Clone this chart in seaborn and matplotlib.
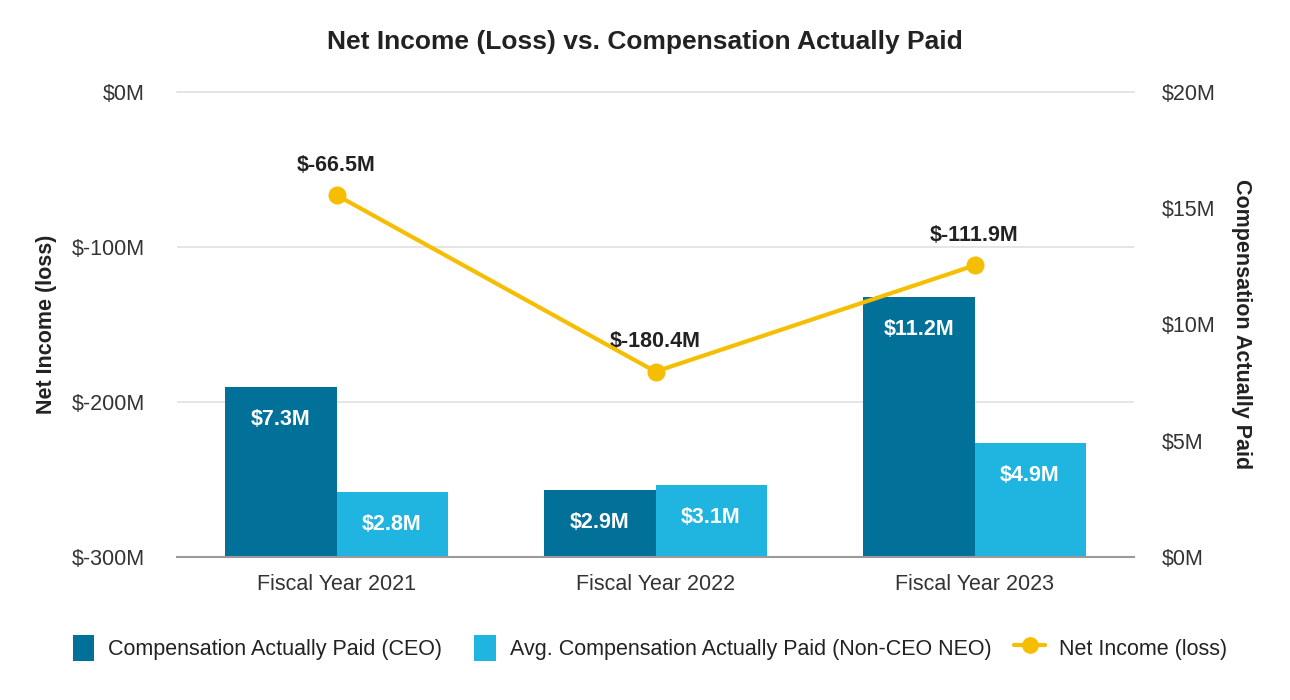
import matplotlib
matplotlib.use("Agg")
import matplotlib.pyplot as plt
import seaborn as sns
import numpy as np
import pandas as pd
from matplotlib.patches import Patch
from matplotlib.lines import Line2D
from matplotlib.legend_handler import HandlerLine2D

years = ["Fiscal Year 2021", "Fiscal Year 2022", "Fiscal Year 2023"]
ceo_cap = [7.3, 2.9, 11.2]          # $M
neo_cap = [2.8, 3.1, 4.9]           # $M
net_income = [-66.5, -180.4, -111.9]  # $M
series_names = ["Compensation Actually Paid (CEO)",
                "Avg. Compensation Actually Paid (Non-CEO NEO)"]
line_name = "Net Income (loss)"
left_ticks = [0, -100, -200, -300]
right_ticks = [0, 5, 10, 15, 20]

c_ceo = "#02719A"
c_neo = "#1FB5E0"
c_line = "#F6BE00"
txt = "#222222"
fs = 15.5

sns.set_theme(style="white")
plt.rcParams['font.family'] = ['Liberation Sans', 'DejaVu Sans']

df = pd.DataFrame({
    "year": years * 2,
    "series": [series_names[0]] * 3 + [series_names[1]] * 3,
    "value": ceo_cap + neo_cap,
})

fig = plt.figure(figsize=(12.9, 7.0), dpi=100)
ax = fig.add_axes([177/1290, 1-557/700, (1134-177)/1290, (557-92)/700])

sns.barplot(data=df, x="year", y="value", hue="series", order=years,
            hue_order=series_names, palette=[c_ceo, c_neo], width=0.696,
            gap=0, saturation=1, ax=ax, legend=False, zorder=2, linewidth=0)
for cont in ax.containers:
    ax.bar_label(cont, labels=[f"${v.get_height():.1f}M" for v in cont],
                 padding=-31, color="white", fontsize=fs, fontweight="bold")

ax2 = ax.twinx()

ax.set_ylim(0, 20)
ax.set_xlim(-0.5, 2.5)
ax.yaxis.tick_right()
ax.yaxis.set_label_position("right")
ax.set_yticks(right_ticks)
ax.set_yticklabels([f"${t}M" for t in right_ticks])
ax.set_yticks([20/3, 40/3], minor=True)
ax.grid(which="minor", axis="y", color="#E3E3E3", linewidth=1.3, zorder=0)
ax.set_axisbelow(True)
ax.tick_params(axis="y", which="both", length=0, pad=20, labelsize=fs,
               labelcolor="#333333", left=False, labelleft=False,
               right=True, labelright=True)
ax.tick_params(axis="x", length=0, pad=12, labelsize=fs, labelcolor="#333333")
ax.set_xlabel("")
ax.set_ylabel("Compensation Actually Paid", fontsize=fs, fontweight="bold",
              color=txt, rotation=270, labelpad=26)
for s in ["left", "right"]:
    ax.spines[s].set_visible(False)
ax.spines["top"].set_color("#E3E3E3")
ax.spines["top"].set_linewidth(1.3)
ax.spines["bottom"].set_color("#9A9A9A")
ax.spines["bottom"].set_linewidth(1.5)

xpos = np.arange(len(years))
sns.lineplot(x=xpos, y=net_income, ax=ax2, color=c_line, linewidth=3,
             marker="o", markersize=13, markeredgewidth=0, sort=False, zorder=5)
for xi, v in zip(xpos, net_income):
    ax2.annotate(f"$-{abs(v):.1f}M", (xi, v), xytext=(0, 14),
                 textcoords="offset points", ha="center", va="bottom",
                 fontsize=fs, fontweight="bold", color=txt)
ax2.set_ylim(-300, 0)
ax2.set_yticks(left_ticks)
ax2.set_yticklabels([f"${t}M" for t in left_ticks])
ax2.tick_params(axis="y", length=0, pad=23, labelsize=fs, labelcolor="#333333",
                left=True, labelleft=True, right=False, labelright=False)
ax2.yaxis.set_label_position("left")
ax2.set_ylabel("Net Income (loss)", fontsize=fs, fontweight="bold", color=txt, labelpad=11)
for s in ["top", "left", "right", "bottom"]:
    ax2.spines[s].set_visible(False)
ax2.grid(False)

fig.suptitle("Net Income (Loss) vs. Compensation Actually Paid", x=645/1290,
             y=1-42/700, va="center", fontsize=19, fontweight="bold", color=txt)


class WideLine(HandlerLine2D):
    def create_artists(self, legend, orig_handle, xdescent, ydescent,
                       width, height, fontsize, trans):
        extra = width * 0.45
        return super().create_artists(legend, orig_handle, xdescent + extra, ydescent,
                                      width + extra, height, fontsize, trans)


handles = [Patch(facecolor=c_ceo, edgecolor="none"),
           Patch(facecolor=c_neo, edgecolor="none"),
           Line2D([0], [0], color=c_line, linewidth=3, marker="o", markersize=11)]
fig.legend(handles, series_names + [line_name], loc="center",
           bbox_to_anchor=(650/1290, 1-648/700), ncol=3, frameon=False,
           fontsize=fs, handlelength=1.0, handleheight=1.5, columnspacing=1.5,
           handletextpad=0.65, labelcolor="#222222",
           handler_map={Line2D: WideLine()})

fig.savefig("out.png", dpi=100)
